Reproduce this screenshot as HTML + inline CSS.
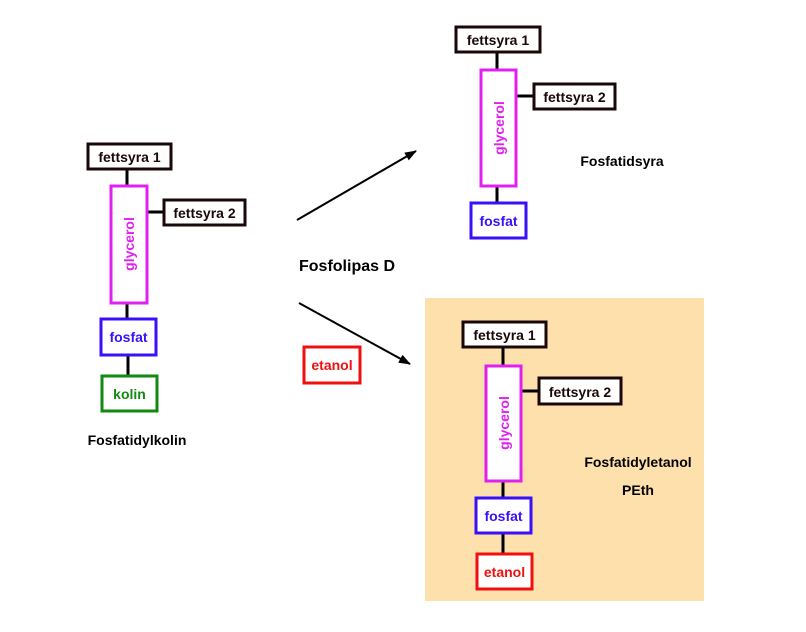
<!DOCTYPE html>
<html><head><meta charset="utf-8"><style>
html,body{margin:0;padding:0;background:#fff;}
svg{display:block;}
text{font-family:"Liberation Sans",Arial,sans-serif;font-weight:bold;font-size:14px;}
</style></head><body>
<svg width="806" height="632" viewBox="0 0 806 632" xmlns="http://www.w3.org/2000/svg">
<defs>
<marker id="ah" markerWidth="12" markerHeight="9" refX="11" refY="4.5" orient="auto" markerUnits="userSpaceOnUse">
<path d="M0,0 L12,4.5 L0,9 z" fill="#000"/>
</marker>
</defs>
<rect x="425" y="298" width="279" height="303" fill="#fde0ac"/>

<!-- Left group -->
<g stroke-width="3" fill="#fff">
<line x1="127" y1="169" x2="127" y2="185" stroke="#000"/>
<line x1="147" y1="212" x2="163" y2="212" stroke="#000"/>
<line x1="127" y1="303" x2="127" y2="318" stroke="#000"/>
<line x1="128" y1="355" x2="128" y2="375" stroke="#000"/>
<rect x="88" y="144" width="83" height="25" stroke="#1a0808"/>
<rect x="111" y="186" width="36" height="117" stroke="#e020f0"/>
<rect x="164" y="200" width="81" height="25" stroke="#1a0808"/>
<rect x="101" y="319" width="55" height="36" stroke="#3a10f8"/>
<rect x="102" y="376" width="55" height="35" stroke="#108a10"/>
</g>
<text x="129.5" y="162" text-anchor="middle" fill="#1a0808">fettsyra 1</text>
<text x="204.5" y="218" text-anchor="middle" fill="#1a0808">fettsyra 2</text>
<text transform="translate(134,244) rotate(-90)" text-anchor="middle" fill="#e020f0">glycerol</text>
<text x="128.5" y="342" text-anchor="middle" fill="#3a10f8">fosfat</text>
<text x="129.5" y="399" text-anchor="middle" fill="#108a10">kolin</text>
<text x="137" y="445" text-anchor="middle" fill="#000">Fosfatidylkolin</text>

<!-- Arrows -->
<line x1="297" y1="220" x2="416" y2="151" stroke="#000" stroke-width="2" marker-end="url(#ah)"/>
<line x1="299" y1="303" x2="410" y2="364" stroke="#000" stroke-width="2" marker-end="url(#ah)"/>
<text x="299" y="271" fill="#000" style="font-size:16px">Fosfolipas D</text>
<rect x="304" y="347" width="56" height="36" stroke="#f01010" stroke-width="3" fill="#fff"/>
<text x="332" y="370" text-anchor="middle" fill="#f01010">etanol</text>

<!-- Top right group -->
<g stroke-width="3" fill="#fff">
<line x1="497" y1="52" x2="497" y2="69" stroke="#000"/>
<line x1="516" y1="96" x2="533" y2="96" stroke="#000"/>
<line x1="497" y1="186" x2="497" y2="202" stroke="#000"/>
<rect x="456" y="27" width="84" height="25" stroke="#1a0808"/>
<rect x="481" y="70" width="35" height="116" stroke="#e020f0"/>
<rect x="534" y="84" width="81" height="25" stroke="#1a0808"/>
<rect x="471" y="203" width="55" height="35" stroke="#3a10f8"/>
</g>
<text x="498" y="45" text-anchor="middle" fill="#1a0808">fettsyra 1</text>
<text x="574.5" y="102" text-anchor="middle" fill="#1a0808">fettsyra 2</text>
<text transform="translate(504,128) rotate(-90)" text-anchor="middle" fill="#e020f0">glycerol</text>
<text x="498.5" y="226" text-anchor="middle" fill="#3a10f8">fosfat</text>
<text x="622" y="166" text-anchor="middle" fill="#000">Fosfatidsyra</text>

<!-- Bottom right group -->
<g stroke-width="3" fill="#fff">
<line x1="503" y1="347" x2="503" y2="365" stroke="#000"/>
<line x1="521" y1="391" x2="538" y2="391" stroke="#000"/>
<line x1="503" y1="481" x2="503" y2="497" stroke="#000"/>
<line x1="503" y1="533" x2="503" y2="553" stroke="#000"/>
<rect x="463" y="322" width="83" height="25" stroke="#1a0808"/>
<rect x="486" y="366" width="35" height="115" stroke="#e020f0"/>
<rect x="539" y="378" width="82" height="26" stroke="#1a0808"/>
<rect x="476" y="498" width="55" height="35" stroke="#3a10f8"/>
<rect x="477" y="554" width="55" height="35" stroke="#f01010"/>
</g>
<text x="504.5" y="340" text-anchor="middle" fill="#1a0808">fettsyra 1</text>
<text x="580" y="397" text-anchor="middle" fill="#1a0808">fettsyra 2</text>
<text transform="translate(509,423) rotate(-90)" text-anchor="middle" fill="#e020f0">glycerol</text>
<text x="503.5" y="521" text-anchor="middle" fill="#3a10f8">fosfat</text>
<text x="504.5" y="577" text-anchor="middle" fill="#f01010">etanol</text>
<text x="638" y="467" text-anchor="middle" fill="#000">Fosfatidyletanol</text>
<text x="638" y="495" text-anchor="middle" fill="#000">PEth</text>
</svg>
</body></html>
